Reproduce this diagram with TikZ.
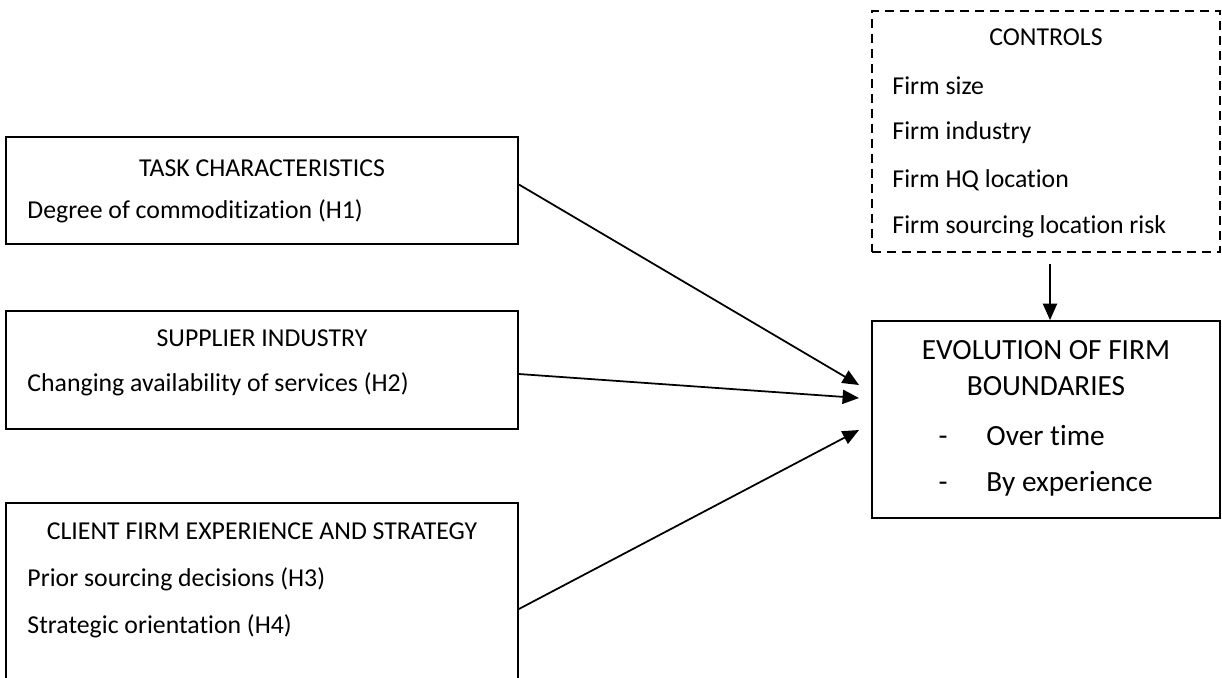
\documentclass[tikz,border=0pt]{standalone}
\usepackage{fontspec}
\setmainfont[Ligatures=NoCommon]{Carlito}
\usetikzlibrary{arrows.meta,fit,calc}

\begin{document}
\begin{tikzpicture}[x=0.015cm, y=-0.015cm, font=\fontsize{11}{13}\selectfont,
    box/.style={draw, line width=0.75pt, inner sep=0pt},
    txt/.style={inner sep=0pt},
    arr/.style={line width=0.75pt, -{Triangle[length=7pt,width=6pt]}}]
  \clip (0,0) rectangle (1222,677);
  % drivers on the left
  \node [box, fit={(6,137) (518,244)}] (task) {};
  \node [txt] (tasktitle) at (262,168) {TASK CHARACTERISTICS};
  \node [txt, anchor=west] (h1) at (27,211) {Degree of commoditization (H1)};

  \node [box, fit={(6,311) (518,429)}] (supp) {};
  \node [txt] (supptitle) at (262,338) {SUPPLIER INDUSTRY};
  \node [txt, anchor=west] (h2) at (27,384) {Changing availability of services (H2)};

  \node [box, fit={(6,503) (518,715)}] (client) {};  % runs off the bottom
  \node [txt] (clienttitle) at (262,531) {CLIENT FIRM EXPERIENCE AND STRATEGY};
  \node [txt, anchor=west] (h3) at (27,579) {Prior sourcing decisions (H3)};
  \node [txt, anchor=west] (h4) at (27,626) {Strategic orientation (H4)};

  % controls
  \node [box, dash pattern=on 4pt off 2.4pt, fit={(872,11) (1220,252)}] (ctrl) {};
  \node [txt] (ctrltitle) at (1046,37) {CONTROLS};
  \node [txt, anchor=west] (c1) at (892,86) {Firm size};
  \node [txt, anchor=west] (c2) at (892,133) {Firm industry};
  \node [txt, anchor=west] (c3) at (892,180) {Firm HQ location};
  \node [txt, anchor=west] (c4) at (892,227) {Firm sourcing location risk};

  % outcome
  \node [box, fit={(872,321) (1220,518)}] (evo) {};
  \begin{scope}[font=\fontsize{12.5}{15}\selectfont]
    \node [txt] (evo1) at (1046,350) {EVOLUTION OF FIRM};
    \node [txt] (evo2) at (1046,386) {BOUNDARIES};
    \node [txt, anchor=west] (evo3) at (986,436) {Over time};
    \node [txt, anchor=west] (evo4) at (986,484) {By experience};
    \node [txt, anchor=base] (dash1) at ($(evo3.base west)+(-43,0)$) {-};
    \node [txt, anchor=base] (dash2) at ($(evo4.base west)+(-43,0)$) {-};
  \end{scope}

  \coordinate (tip1) at (859,385);
  \coordinate (tip2) at (859,398);
  \coordinate (tip3) at (859,430);
  \draw [arr] ($(task.east)+(0,-6)$) -- (tip1);
  \draw [arr] ($(supp.east)+(0,4)$) -- (tip2);
  \draw [arr] (client.east) -- (tip3);
  \draw [arr] ($(ctrl.south)+(4,11)$) -- ($(evo.north)+(4,0)$);
\end{tikzpicture}
\end{document}
